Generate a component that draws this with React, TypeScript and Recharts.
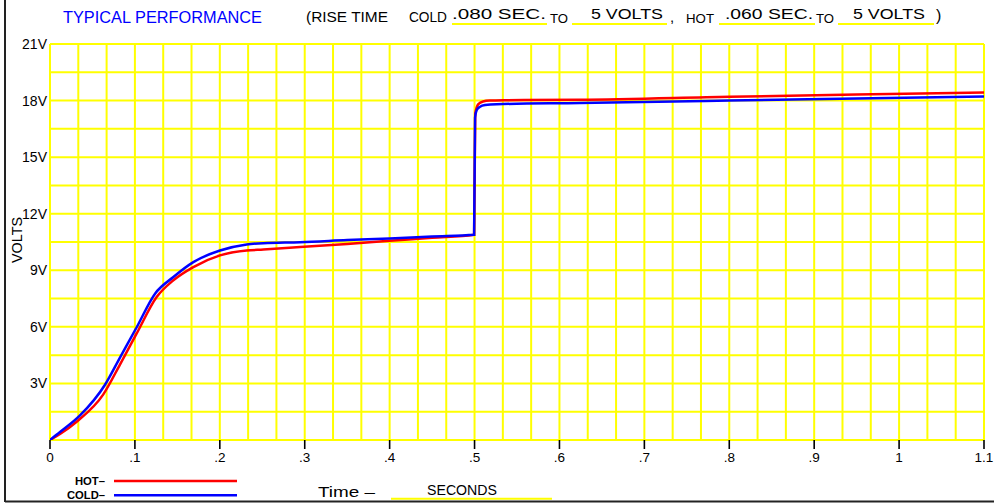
import React from "react";
import { LineChart, Line, XAxis, YAxis, CartesianGrid } from "recharts";

// Time (s) and volts for the HOT curve (red)
const hotT = [0, 0.0118, 0.0314, 0.0628, 0.0824, 0.1021, 0.1256, 0.1453, 0.1688, 0.2002, 0.2317, 0.2513, 0.2945, 0.35, 0.4, 0.45, 0.4995, 0.5008, 0.5045, 0.51, 0.518, 0.534, 0.624, 0.8, 0.95, 1.1];
const hotV = [0, 0.32, 0.97, 2.42, 4.0, 5.65, 7.58, 8.47, 9.17, 9.79, 10.05, 10.1, 10.23, 10.4, 10.56, 10.72, 10.88, 17.3, 17.81, 17.95, 18.0, 18.02, 18.04, 18.2, 18.32, 18.43];

// Time (s) and volts for the COLD curve (blue)
const coldT = [0, 0.0118, 0.0353, 0.0648, 0.0824, 0.1021, 0.1237, 0.1453, 0.1688, 0.2002, 0.2317, 0.2513, 0.2945, 0.35, 0.4, 0.45, 0.4995, 0.5006, 0.5026, 0.5065, 0.5124, 0.526, 0.624, 0.8, 0.95, 1.1];
const coldV = [0, 0.42, 1.3, 2.93, 4.37, 5.98, 7.76, 8.64, 9.43, 10.05, 10.37, 10.44, 10.49, 10.6, 10.69, 10.79, 10.88, 17.1, 17.5, 17.67, 17.76, 17.81, 17.87, 18.0, 18.11, 18.22];

const xTicks = [0, 0.1, 0.2, 0.3, 0.4, 0.5, 0.6, 0.7, 0.8, 0.9, 1.0, 1.1];
const xTickLabels = ["0", ".1", ".2", ".3", ".4", ".5", ".6", ".7", ".8", ".9", "1", "1.1"];
const yTicks = [3, 6, 9, 12, 15, 18, 21];
const yTickLabels = ["3V", "6V", "9V", "12V", "15V", "18V", "21V"];

const hotData = hotT.map((t, i) => ({ t, v: hotV[i] }));
const coldData = coldT.map((t, i) => ({ t, v: coldV[i] }));

const gridX = Array.from({ length: 34 }, (_, i) => i / 30);
const gridY = Array.from({ length: 15 }, (_, i) => i * 1.5);

const FONT = "'Liberation Sans', Arial, sans-serif";
const YEL = "#ffff00";

export default function App() {
  return (
    <div style={{ position: "absolute", left: 0, top: 0, width: 994, height: 504, background: "#fff", fontFamily: FONT }}>
      <LineChart width={994} height={504} margin={{ top: 44, right: 10, left: 0, bottom: 0 }}>
        <CartesianGrid stroke={YEL} strokeWidth={2} horizontalValues={gridY} verticalValues={gridX} />
        <XAxis
          type="number"
          dataKey="t"
          domain={[0, 1.1]}
          ticks={xTicks}
          tickFormatter={(v: number, i: number) => xTickLabels[i]}
          axisLine={false}
          tickLine={{ stroke: "#000", strokeWidth: 1.6 }}
          tickSize={9}
          tickMargin={3}
          height={64}
          interval={0}
          allowDataOverflow
          tick={{ fill: "#000", fontSize: 13.5, fontFamily: FONT }}
        />
        <YAxis
          type="number"
          domain={[0, 21]}
          ticks={yTicks}
          tickFormatter={(v: number, i: number) => yTickLabels[i]}
          axisLine={false}
          tickLine={false}
          tickSize={0}
          tickMargin={3}
          width={50}
          interval={0}
          allowDataOverflow
          tick={{ fill: "#000", fontSize: 14, fontFamily: FONT }}
        />
        <Line data={hotData} dataKey="v" type="monotone" stroke="#ff0000" strokeWidth={2.5} dot={false} isAnimationActive={false} />
        <Line data={coldData} dataKey="v" type="monotone" stroke="#0000ff" strokeWidth={2.5} dot={false} isAnimationActive={false} />
      </LineChart>
      <svg width={994} height={504} style={{ position: "absolute", left: 0, top: 0, pointerEvents: "none" }} fontFamily={FONT}>
        <line x1={5} y1={0} x2={5} y2={502} stroke="#222" strokeWidth={2} />
        <line x1={5} y1={501.5} x2={994} y2={501.5} stroke="#222" strokeWidth={2} />
        <text x={63} y={22.7} fontSize={16} fill="#0000ff" textLength={199} lengthAdjust="spacingAndGlyphs">TYPICAL  PERFORMANCE</text>
        <text x={306} y={21.7} fontSize={14} fill="#000" textLength={82} lengthAdjust="spacingAndGlyphs">(RISE  TIME</text>
        <text x={409} y={21.7} fontSize={14} fill="#000" textLength={38} lengthAdjust="spacingAndGlyphs">COLD</text>
        <text x={452} y={19} fontSize={15} fill="#000" textLength={94} lengthAdjust="spacingAndGlyphs">.080  SEC.</text>
        <line x1={452} y1={24} x2={547} y2={24} stroke={YEL} strokeWidth={2.2} />
        <text x={550} y={22.6} fontSize={13} fill="#000" textLength={18} lengthAdjust="spacingAndGlyphs">TO</text>
        <line x1={572} y1={24} x2={667} y2={24} stroke={YEL} strokeWidth={2.2} />
        <text x={591} y={19} fontSize={15} fill="#000" textLength={72} lengthAdjust="spacingAndGlyphs">5  VOLTS</text>
        <text x={670} y={22} fontSize={15} fill="#000">,</text>
        <text x={686} y={22.6} fontSize={13} fill="#000" textLength={28} lengthAdjust="spacingAndGlyphs">HOT</text>
        <line x1={719} y1={24} x2={815} y2={24} stroke={YEL} strokeWidth={2.2} />
        <text x={725} y={19} fontSize={15} fill="#000" textLength={88} lengthAdjust="spacingAndGlyphs">.060  SEC.</text>
        <text x={816} y={22.6} fontSize={13} fill="#000" textLength={18} lengthAdjust="spacingAndGlyphs">TO</text>
        <line x1={838} y1={24} x2={934} y2={24} stroke={YEL} strokeWidth={2.2} />
        <text x={853} y={19} fontSize={15} fill="#000" textLength={72} lengthAdjust="spacingAndGlyphs">5  VOLTS</text>
        <text x={936} y={21} fontSize={16} fill="#000">)</text>
        <text x={0} y={0} fontSize={14} fill="#000" textAnchor="middle" transform="translate(22,240) rotate(-90)" textLength={46} lengthAdjust="spacingAndGlyphs">VOLTS</text>
        <text x={105} y={485} fontSize={11} fontWeight="bold" fill="#000" textAnchor="end" textLength={30} lengthAdjust="spacingAndGlyphs">HOT–</text>
        <line x1={114} y1={481} x2={237} y2={481} stroke="#ff0000" strokeWidth={2.5} />
        <text x={105} y={499} fontSize={11} fontWeight="bold" fill="#000" textAnchor="end" textLength={38} lengthAdjust="spacingAndGlyphs">COLD–</text>
        <line x1={114} y1={495.3} x2={237} y2={495.3} stroke="#0000ff" strokeWidth={2.5} />
        <text x={318} y={497} fontSize={15} fill="#000" textLength={57} lengthAdjust="spacingAndGlyphs">Time  –</text>
        <text x={427} y={495} fontSize={15} fill="#000" textLength={70} lengthAdjust="spacingAndGlyphs">SECONDS</text>
        <line x1={391} y1={498.7} x2={552} y2={498.7} stroke={YEL} strokeWidth={2} />
      </svg>
    </div>
  );
}
